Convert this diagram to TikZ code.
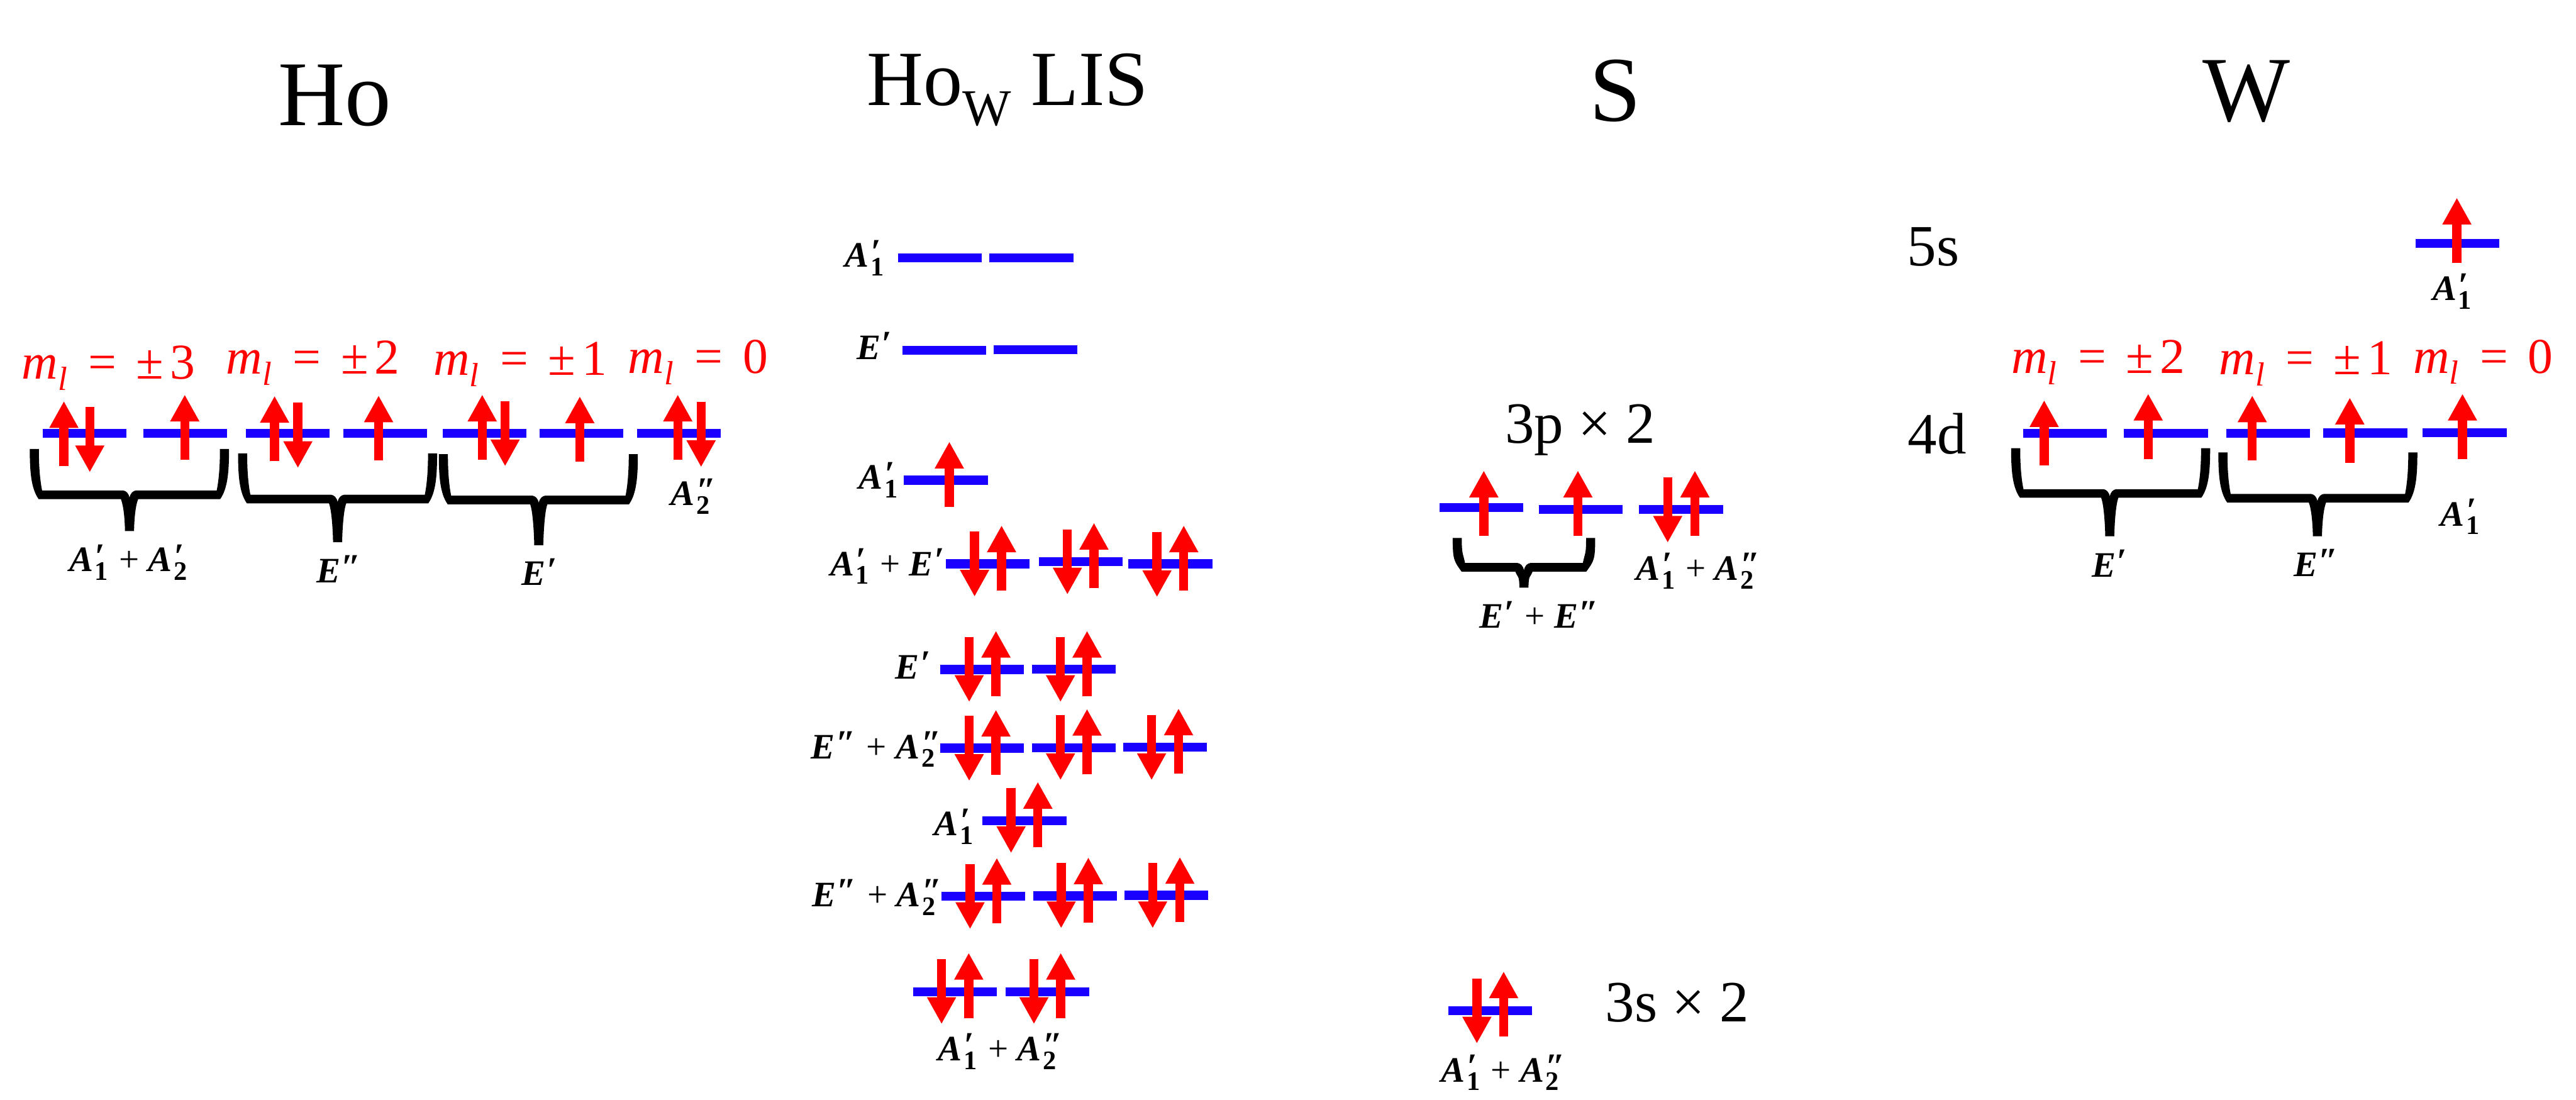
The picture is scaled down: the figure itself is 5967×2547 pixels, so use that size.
\documentclass[tikz,border=0pt]{standalone}
\usepackage{fontspec}
\setmainfont{Liberation Serif}
\usetikzlibrary{arrows.meta}
\definecolor{lvlblue}{RGB}{25,0,255}
\tikzset{
  x=0.01cm,y=-0.01cm,
  level/.style={draw=lvlblue,line width=0.21cm},
  spin/.style={draw=red,line width=0.21cm,-{Triangle[length=0.62cm,width=0.63cm]}},
  sym/.style={anchor=base,inner sep=0pt,font=\fontsize{23.6}{25}\selectfont},
  ml/.style={anchor=base,inner sep=0pt,text=red,font=\fontsize{33}{35}\selectfont},
  title/.style={anchor=base,inner sep=0pt,font=\fontsize{61}{64}\selectfont},
  orb/.style={anchor=base,inner sep=0pt,font=\fontsize{38.5}{41}\selectfont},
}
\newcommand\lvl[2]{\draw[level] (#1,#2) -- ({#1+194},#2);}
\newcommand\spinu[2]{\draw[spin] (#1,{#2+151}) -- (#1,#2);}
\newcommand\spind[2]{\draw[spin] (#1,{#2-151}) -- (#1,#2);}
\newcommand\pl{\hspace{.3em}+\hspace{.25em}}
\newcommand\Asb[2]{{\bfseries\itshape A}\hspace{.05em}\rlap{\raisebox{.1em}{\bfseries\itshape #2}}\raisebox{-.24em}{\bfseries\fontsize{17.6}{18}\selectfont #1}}
\newcommand\Esb[1]{{\bfseries\itshape E\hspace{.03em}\raisebox{.1em}{#1}}}
\newcommand\mlbase{{\itshape m\raisebox{-.22em}{\fontsize{22}{23}\selectfont l}}\hspace{.42em}=\hspace{.4em}}
\newcommand\mlv[1]{\mlbase ±\hspace{.12em}#1}
% left centre, right centre, tip x, top y, bar top y, tip y
\newcommand\hbrace[6]{\fill[black]
 ({#1-10.5},#4) .. controls ({#1-10.5},{#4+50}) and ({#1-8},{#5-5}) .. ({#1+10},{#5+20})
 -- ({#3-20},{#5+20}) .. controls ({#3-14},{#5+35}) and ({#3-11},{#6-30}) .. ({#3-10.5},#6)
 -- ({#3+10.5},#6) .. controls ({#3+11},{#6-30}) and ({#3+14},{#5+35}) .. ({#3+20},{#5+20})
 -- ({#2-10},{#5+20}) .. controls ({#2+8},{#5-5}) and ({#2+10.5},{#4+50}) .. ({#2+10.5},#4)
 -- ({#2-10.5},#4) .. controls ({#2-10.5},{#4+40}) and ({#2-13},{#5-25}) .. ({#2-18},#5)
 -- ({#3+15},#5) .. controls ({#3+8},{#5+1}) and ({#3+2},{#5+6}) .. (#3,{#5+17})
 .. controls ({#3-2},{#5+6}) and ({#3-8},{#5+1}) .. ({#3-15},#5)
 -- ({#1+18},#5) .. controls ({#1+13},{#5-25}) and ({#1+10.5},{#4+40}) .. ({#1+10.5},#4) -- cycle;}
\begin{document}
\begin{tikzpicture}
\useasboundingbox (0,0) rectangle (5967,2547);
% titles
\node[title] (tHo) at (775,291) {Ho};
\node[title,font=\fontsize{51.5}{54}\selectfont] (tLIS) at (2334,244) {Ho\raisebox{-0.26em}{\fontsize{34}{36}\selectfont W} LIS};
\node[title] (tS) at (3742,281) {S};
\node[title] (tW) at (5204,281) {W};
% ---------- Ho ----------
\foreach \x in {99,332,569,795,1025,1250,1476} {\lvl{\x}{1004}}
\spinu{148}{929}\spind{208}{1094}\spinu{428}{914}
\spinu{636}{917}\spind{690}{1084}\spinu{877}{916}
\spinu{1117}{914}\spind{1170}{1080}\spinu{1343}{918}
\spinu{1570}{914}\spind{1624}{1082}
\hbrace{79.5}{520}{300}{1040}{1136}{1230}
\hbrace{562}{1002}{782}{1050}{1146}{1256}
\hbrace{1027}{1467}{1248}{1052}{1148}{1263}
\node[ml] (ml3) at (251,878) {\mlv{3}};
\node[ml] (ml2) at (725,866) {\mlv{2}};
\node[ml] (ml1) at (1205,869) {\mlv{1}};
\node[ml] (ml0) at (1617,865) {\mlbase 0};
\node[sym] (a) at (297,1324) {\Asb{1}{′}\pl\Asb{2}{′}};
\node[sym] (b) at (785,1349) {\Esb{″}};
\node[sym] (c) at (1249,1356) {\Esb{′}};
\node[sym] (d) at (1599,1171) {\Asb{2}{″}};
% ---------- Ho_W LIS ----------
\lvl{2080}{597}\lvl{2292}{597}
\lvl{2090}{811}\lvl{2302}{810}
\lvl{2094}{1112}\spinu{2199}{1023}
\lvl{2191}{1306}\lvl{2406}{1301}\lvl{2614}{1306}
\spind{2257.5}{1382}\spinu{2320}{1217}
\spind{2472.5}{1377}\spinu{2534}{1211}
\spind{2680}{1383}\spinu{2742}{1217}
\lvl{2178}{1551}\lvl{2390}{1550}
\spind{2245}{1626}\spinu{2307}{1461}
\spind{2456.5}{1626}\spinu{2518}{1461}
\lvl{2178}{1733}\lvl{2390}{1732}\lvl{2602}{1731}
\spind{2245}{1809}\spinu{2307}{1644}
\spind{2456.5}{1807}\spinu{2518}{1642}
\spind{2667.5}{1807}\spinu{2730}{1641}
\lvl{2276}{1901}\spind{2342}{1976}\spinu{2404}{1811}
\lvl{2181}{2076}\lvl{2393}{2075}\lvl{2604}{2074}
\spind{2247}{2152}\spinu{2309}{1987}
\spind{2458}{2150}\spinu{2521}{1986}
\spind{2670}{2150}\spinu{2733}{1985}
\lvl{2115}{2297}\lvl{2329}{2297}
\spind{2181}{2372}\spinu{2244}{2207}
\spind{2395}{2372}\spinu{2457}{2207}
\node[sym] (e) at (2002,619) {\Asb{1}{′}};
\node[sym] (f) at (2025,832) {\Esb{′}};
\node[sym] (g) at (2035,1133) {\Asb{1}{′}};
\node[sym] (h) at (2055,1333) {\Asb{1}{′}\pl\Esb{′}};
\node[sym] (i) at (2114,1572) {\Esb{′}};
\node[sym] (j) at (2022,1757) {\Esb{″}\pl\Asb{2}{″}};
\node[sym] (k) at (2209,1936) {\Asb{1}{′}};
\node[sym] (l) at (2024,2100) {\Esb{″}\pl\Asb{2}{″}};
\node[sym] (m) at (2310,2457) {\Asb{1}{′}\pl\Asb{2}{″}};
% ---------- S ----------
\node[orb] (p3) at (3660,1027) {3p × 2};
\lvl{3335}{1176}\lvl{3564}{1180}\lvl{3797}{1180}
\spinu{3437}{1090}\spinu{3655}{1090}\spind{3863}{1257}\spinu{3926}{1090}
\hbrace{3375.5}{3684.5}{3530}{1246}{1304}{1361}
\node[sym] (n) at (3565,1455) {\Esb{′}\pl\Esb{″}};
\node[sym] (o) at (3926,1344) {\Asb{1}{′}\pl\Asb{2}{″}};
\lvl{3355}{2341}\spind{3421}{2417}\spinu{3483}{2250}
\node[sym] (q) at (3475,2506) {\Asb{1}{′}\pl\Asb{2}{″}};
\node[orb] (s3) at (3885,2366) {3s × 2};
% ---------- W ----------
\node[orb] (s5) at (4478,616) {5s};
\node[orb] (d4) at (4487,1051) {4d};
\lvl{5595}{564}\spinu{5691}{458}
\node[sym] (r) at (5680,696) {\Asb{1}{′}};
\lvl{4686}{1004}\lvl{4920}{1004}\lvl{5157}{1004}\lvl{5382}{1003}\lvl{5612}{1002}
\spinu{4735}{927}\spinu{4976}{912}\spinu{5217}{916}\spinu{5443}{921}\spinu{5704}{912}
\hbrace{4669}{5109}{4887}{1038}{1133}{1242}
\hbrace{5149}{5589}{5368}{1048}{1144}{1242}
\node[ml] (w2) at (4860,865) {\mlv{2}};
\node[ml] (w1) at (5341,868) {\mlv{1}};
\node[ml] (w0) at (5752,864) {\mlbase 0};
\node[sym] (t) at (4886,1336) {\Esb{′}};
\node[sym] (u) at (5365,1335) {\Esb{″}};
\node[sym] (v) at (5698,1218) {\Asb{1}{′}};
\end{tikzpicture}
\end{document}
